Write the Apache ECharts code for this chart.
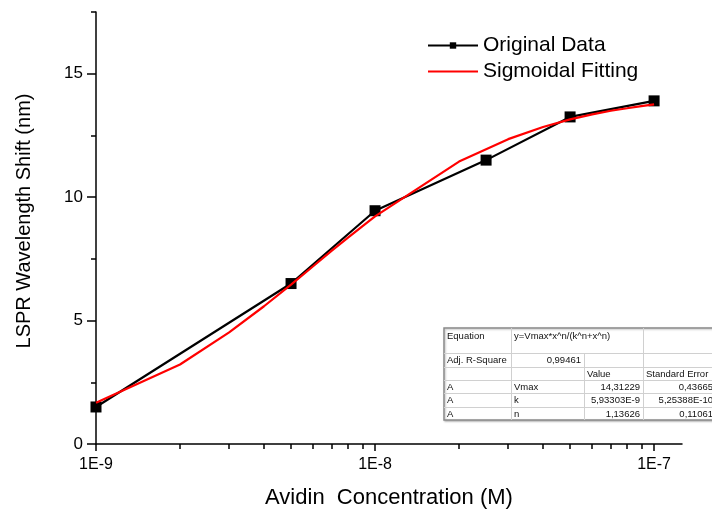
<!DOCTYPE html>
<html>
<head>
<meta charset="utf-8">
<script src="https://cdn.jsdelivr.net/npm/echarts@6/dist/echarts.min.js"></script>
<style>html,body{margin:0;padding:0;background:#fff;}#c{width:712px;height:509px;}</style>
</head>
<body>
<div id="c"></div>
<script>
// ---- data ----
var dataX = [1e-9, 5e-9, 1e-8, 2.5e-8, 5e-8, 1e-7];
var dataY = [1.5, 6.5, 9.45, 11.5, 13.25, 13.9];
var fitX = [1e-9, 2e-9, 3e-9, 4e-9, 5e-9, 6e-9, 7e-9, 8e-9, 9e-9, 1e-8,
            2e-8, 3e-8, 4e-8, 5e-8, 6e-8, 7e-8, 8e-8, 9e-8, 1e-7];
var fitY = [1.67, 3.22, 4.52, 5.58, 6.46, 7.20, 7.83, 8.36, 8.82, 9.22,
            11.44, 12.35, 12.84, 13.15, 13.35, 13.50, 13.60, 13.69, 13.76];
var xMajorTicks = [1e-9, 1e-8, 1e-7];
var xMinorTicks = [2e-9, 3e-9, 4e-9, 5e-9, 6e-9, 7e-9, 8e-9, 9e-9,
                   2e-8, 3e-8, 4e-8, 5e-8, 6e-8, 7e-8, 8e-8, 9e-8];
var xTickLabels = ['1E-9', '1E-8', '1E-7'];
var yMajorTicks = [0, 5, 10, 15];
var yMinorTicks = [2.5, 7.5, 12.5, 17.5];
var seriesNames = ['Original Data', 'Sigmoidal Fitting'];
var tableRows = [
  ['Equation', 'y=Vmax*x^n/(k^n+x^n)', '', ''],
  ['Adj. R-Square', '0,99461', '', ''],
  ['', '', 'Value', 'Standard Error'],
  ['A', 'Vmax', '14,31229', '0,43665'],
  ['A', 'k', '5,93303E-9', '5,25388E-10'],
  ['A', 'n', '1,13626', '0,11061']
];

var FONT = '"Liberation Sans", Arial, sans-serif';
var chart = echarts.init(document.getElementById('c'));

function pairs(xs, ys) { return xs.map(function (x, i) { return [x, ys[i]]; }); }

// ---- table graphic ----
var colX = [444, 511, 584, 643, 716];
var rowY = [328, 353, 367, 380, 393, 407, 420];
var tbl = [];
tbl.push({type: 'rect', shape: {x: colX[0], y: rowY[0], width: colX[4] - colX[0], height: rowY[6] - rowY[0]},
  style: {fill: '#fff', stroke: '#8a8a8a', lineWidth: 1.5, shadowBlur: 2, shadowColor: 'rgba(0,0,0,0.25)', shadowOffsetX: 1, shadowOffsetY: 1}});
for (var r = 1; r < rowY.length - 1; r++) {
  tbl.push({type: 'line', shape: {x1: colX[0], y1: rowY[r] + 0.5, x2: colX[4], y2: rowY[r] + 0.5}, style: {stroke: '#d0d0d0', lineWidth: 1}});
}
tbl.push({type: 'line', shape: {x1: colX[1] + 0.5, y1: rowY[0], x2: colX[1] + 0.5, y2: rowY[6]}, style: {stroke: '#d0d0d0', lineWidth: 1}});
tbl.push({type: 'line', shape: {x1: colX[2] + 0.5, y1: rowY[1], x2: colX[2] + 0.5, y2: rowY[6]}, style: {stroke: '#d0d0d0', lineWidth: 1}});
tbl.push({type: 'line', shape: {x1: colX[3] + 0.5, y1: rowY[0], x2: colX[3] + 0.5, y2: rowY[6]}, style: {stroke: '#d0d0d0', lineWidth: 1}});
tableRows.forEach(function (row, ri) {
  row.forEach(function (txt, ci) {
    if (!txt) return;
    var right = (ri >= 3 && ci >= 2) || (ri === 1 && ci === 1);
    var yy = ri === 0 ? rowY[0] + 8 : (rowY[ri] + rowY[ri + 1]) / 2 + 0.5;
    tbl.push({type: 'text', x: right ? colX[ci + 1] - 3 : colX[ci] + 3, y: yy,
      style: {text: txt, font: '9.5px ' + FONT, fill: '#111', textAlign: right ? 'right' : 'left', textVerticalAlign: 'middle'}});
  });
});
tbl.forEach(function (g) { g.z = 100; });

var axisLineStyle = {color: '#000', width: 1.5};

var option = {
  backgroundColor: '#fff',
  animation: false,
  textStyle: {fontFamily: FONT},
  grid: {left: 96, right: 30, top: 12, bottom: 65, containLabel: false, outerBoundsMode: 'none'},
  legend: {
    data: [{name: seriesNames[0]}, {name: seriesNames[1], itemStyle: {opacity: 0}}],
    orient: 'vertical', left: 422, top: 30,
    itemWidth: 50, itemHeight: 8, itemGap: 5,
    textStyle: {fontSize: 21, color: '#000', fontFamily: FONT}
  },
  xAxis: [{
    type: 'log', logBase: 10, min: 1e-9, max: 1.259e-7, position: 'bottom',
    name: 'Avidin  Concentration (M)', nameLocation: 'middle', nameGap: 43,
    nameTextStyle: {fontSize: 22, color: '#000', fontFamily: FONT},
    axisLine: {show: true, lineStyle: axisLineStyle},
    axisTick: {show: true, customValues: xMajorTicks, length: 7, lineStyle: {color: '#000', width: 1.5}},
    axisLabel: {customValues: xMajorTicks, fontSize: 16, color: '#000', margin: 13,
      formatter: function (v) { var i = xMajorTicks.findIndex(function (t) { return Math.abs(Math.log10(t) - Math.log10(v)) < 1e-6; }); return i >= 0 ? xTickLabels[i] : ''; }},
    splitLine: {show: false}, minorTick: {show: false}
  }, {
    type: 'log', logBase: 10, min: 1e-9, max: 1.259e-7, position: 'bottom',
    axisLine: {show: false},
    axisTick: {show: true, customValues: xMinorTicks, length: 5, lineStyle: {color: '#000', width: 1.5}},
    axisLabel: {show: false}, splitLine: {show: false}
  }],
  yAxis: [{
    type: 'value', min: 0, max: 17.5, interval: 5, position: 'left',
    name: 'LSPR Wavelength Shift (nm)', nameLocation: 'middle', nameGap: 62, nameRotate: 90,
    nameTextStyle: {fontSize: 20, color: '#000', fontFamily: FONT, padding: [0, 0, 0, 14]},
    axisLine: {show: true, lineStyle: axisLineStyle},
    axisTick: {show: true, customValues: yMajorTicks, length: 9, lineStyle: {color: '#000', width: 1.5}},
    axisLabel: {customValues: yMajorTicks, fontSize: 17, color: '#000', margin: 13},
    splitLine: {show: false}
  }, {
    type: 'value', min: 0, max: 17.5, interval: 2.5, position: 'left',
    axisLine: {show: false},
    axisTick: {show: true, customValues: yMinorTicks, length: 5, lineStyle: {color: '#000', width: 1.5}},
    axisLabel: {show: false}, splitLine: {show: false}
  }],
  series: [{
    name: seriesNames[0], type: 'line', xAxisIndex: 0, yAxisIndex: 0,
    data: pairs(dataX, dataY), symbol: 'rect', symbolSize: 11, showSymbol: true,
    itemStyle: {color: '#000'}, lineStyle: {color: '#000', width: 2.2}, z: 2
  }, {
    name: seriesNames[1], type: 'line', xAxisIndex: 0, yAxisIndex: 0,
    data: pairs(fitX, fitY), symbol: 'none', showSymbol: false,
    itemStyle: {color: '#ff0000'}, lineStyle: {color: '#ff0000', width: 2.2}, z: 3
  }],
  graphic: tbl
};
chart.setOption(option);
</script>
</body>
</html>
